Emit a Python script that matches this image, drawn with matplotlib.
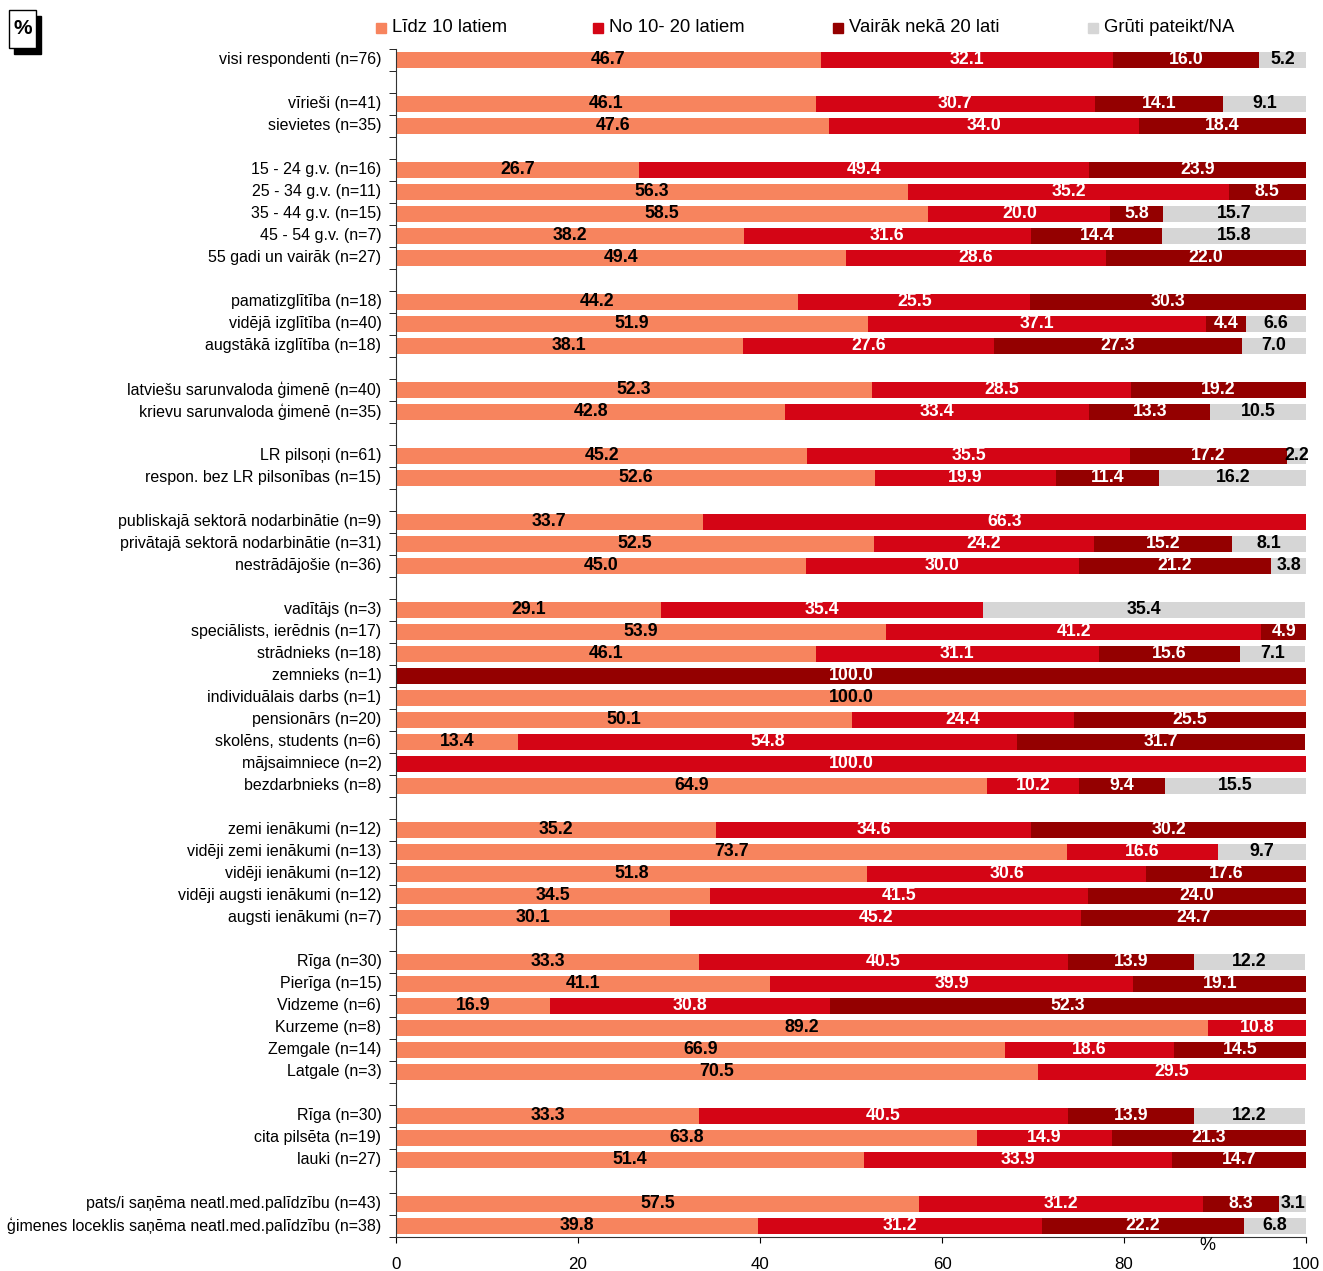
import numpy as np
import matplotlib.pyplot as plt
from matplotlib.patches import Rectangle
from matplotlib.transforms import offset_copy

plt.rcParams["font.family"] = ["Liberation Sans", "DejaVu Sans"]

# rows (None = empty gap slot)
categories = [
    "visi respondenti (n=76)", None,
    "vīrieši (n=41)", "sievietes (n=35)", None,
    "15 - 24 g.v. (n=16)", "25 - 34 g.v. (n=11)", "35 - 44 g.v. (n=15)",
    "45 - 54 g.v. (n=7)", "55 gadi un vairāk (n=27)", None,
    "pamatizglītība (n=18)", "vidējā izglītība (n=40)", "augstākā izglītība (n=18)", None,
    "latviešu sarunvaloda ģimenē (n=40)", "krievu sarunvaloda ģimenē (n=35)", None,
    "LR pilsoņi (n=61)", "respon. bez LR pilsonības (n=15)", None,
    "publiskajā sektorā nodarbinātie (n=9)", "privātajā sektorā nodarbinātie (n=31)",
    "nestrādājošie (n=36)", None,
    "vadītājs (n=3)", "speciālists, ierēdnis (n=17)", "strādnieks (n=18)", "zemnieks (n=1)",
    "individuālais darbs (n=1)", "pensionārs (n=20)", "skolēns, students (n=6)",
    "mājsaimniece (n=2)", "bezdarbnieks (n=8)", None,
    "zemi ienākumi (n=12)", "vidēji zemi ienākumi (n=13)", "vidēji ienākumi (n=12)",
    "vidēji augsti ienākumi (n=12)", "augsti ienākumi (n=7)", None,
    "Rīga (n=30)", "Pierīga (n=15)", "Vidzeme (n=6)", "Kurzeme (n=8)",
    "Zemgale (n=14)", "Latgale (n=3)", None,
    "Rīga (n=30)", "cita pilsēta (n=19)", "lauki (n=27)", None,
    "pats/i saņēma neatl.med.palīdzību (n=43)", "ģimenes loceklis saņēma neatl.med.palīdzību (n=38)",
]

series = ["Līdz 10 latiem", "No 10- 20 latiem", "Vairāk nekā 20 lati", "Grūti pateikt/NA"]

lidz_10 = [46.7, 46.1, 47.6, 26.7, 56.3, 58.5, 38.2, 49.4, 44.2, 51.9, 38.1, 52.3, 42.8,
           45.2, 52.6, 33.7, 52.5, 45.0, 29.1, 53.9, 46.1, 0, 100, 50.1, 13.4, 0, 64.9,
           35.2, 73.7, 51.8, 34.5, 30.1, 33.3, 41.1, 16.9, 89.2, 66.9, 70.5,
           33.3, 63.8, 51.4, 57.5, 39.8]
no_10_20 = [32.1, 30.7, 34.0, 49.4, 35.2, 20.0, 31.6, 28.6, 25.5, 37.1, 27.6, 28.5, 33.4,
            35.5, 19.9, 66.3, 24.2, 30.0, 35.4, 41.2, 31.1, 0, 0, 24.4, 54.8, 100, 10.2,
            34.6, 16.6, 30.6, 41.5, 45.2, 40.5, 39.9, 30.8, 10.8, 18.6, 29.5,
            40.5, 14.9, 33.9, 31.2, 31.2]
virs_20 = [16.0, 14.1, 18.4, 23.9, 8.5, 5.8, 14.4, 22.0, 30.3, 4.4, 27.3, 19.2, 13.3,
           17.2, 11.4, 0, 15.2, 21.2, 0, 4.9, 15.6, 100, 0, 25.5, 31.7, 0, 9.4,
           30.2, 0, 17.6, 24.0, 24.7, 13.9, 19.1, 52.3, 0, 14.5, 0,
           13.9, 21.3, 14.7, 8.3, 22.2]
grut = [5.2, 9.1, 0, 0, 0, 15.7, 15.8, 0, 0, 6.6, 7.0, 0, 10.5,
        2.2, 16.2, 0, 8.1, 3.8, 35.4, 0, 7.1, 0, 0, 0, 0, 0, 15.5,
        0, 9.7, 0, 0, 0, 12.2, 0, 0, 0, 0, 0,
        12.2, 0, 0, 3.1, 6.8]

colors = ["#F7845E", "#D40515", "#940000", "#D6D6D6"]
text_colors = ["black", "white", "white", "black"]

fig = plt.figure(figsize=(13.23, 12.71), dpi=100)
ax = fig.add_axes([396 / 1323, 1 - 1237 / 1271, 910 / 1323, 1188 / 1271])

rows = [i for i, c in enumerate(categories) if c is not None]
labels = [categories[i] for i in rows]
data = np.array([lidz_10, no_10_20, virs_20, grut])

left = np.zeros(len(rows))
for k in range(4):
    vals = data[k]
    ax.barh(rows, vals, left=left, height=0.73, color=colors[k], edgecolor="none")
    for y, l, v in zip(rows, left, vals):
        if v > 0:
            ax.text(l + v / 2, y - 0.03, f"{v:.1f}", ha="center", va="center",
                    fontsize=12.8, fontweight="bold", color=text_colors[k])
    left = left + vals

n = len(categories)
ax.set_ylim(n - 0.5, -0.5)
ax.set_xlim(0, 100)
ax.set_yticks(rows)
ax.set_yticklabels(labels, fontsize=11.55)
ax.tick_params(axis="y", which="major", length=0, pad=10.5)
for lab in ax.get_yticklabels():
    lab.set_transform(offset_copy(lab.get_transform(), fig=fig, y=1.5, units="points"))
ax.set_yticks(np.arange(-0.5, n, 1.0), minor=True)
ax.tick_params(axis="y", which="minor", length=5, direction="out")
ax.set_xticks(range(0, 101, 20))
ax.tick_params(axis="x", labelsize=12.2, length=4.5, pad=10, direction="out")
ax.spines["top"].set_visible(False)
ax.spines["right"].set_visible(False)
ax.spines["left"].set_color("#333333")
ax.spines["bottom"].set_color("#333333")

ax.text(89.2, -0.007, "%", transform=ax.get_xaxis_transform(), ha="center", va="center",
        fontsize=13)

# legend
leg_x = [376, 593, 833, 1088]
for x, name, c in zip(leg_x, series, colors):
    fig.patches.append(Rectangle((x / 1323, 1 - 33 / 1271), 10 / 1323, 10 / 1271,
                                 transform=fig.transFigure, color=c, figure=fig))
    fig.text((x + 16) / 1323, 1 - 28 / 1271, name, fontsize=13.3, va="center")

# % box at top left
fig.patches.append(Rectangle((14 / 1323, 1 - 54 / 1271), 27 / 1323, 38 / 1271,
                             transform=fig.transFigure, color="black", figure=fig))
fig.patches.append(Rectangle((9 / 1323, 1 - 48 / 1271), 27 / 1323, 38 / 1271,
                             transform=fig.transFigure, facecolor="white",
                             edgecolor="black", linewidth=1, figure=fig))
fig.text(22.5 / 1323, 1 - 28 / 1271, "%", fontsize=15, fontweight="bold",
         ha="center", va="center")

plt.savefig("out.png")
